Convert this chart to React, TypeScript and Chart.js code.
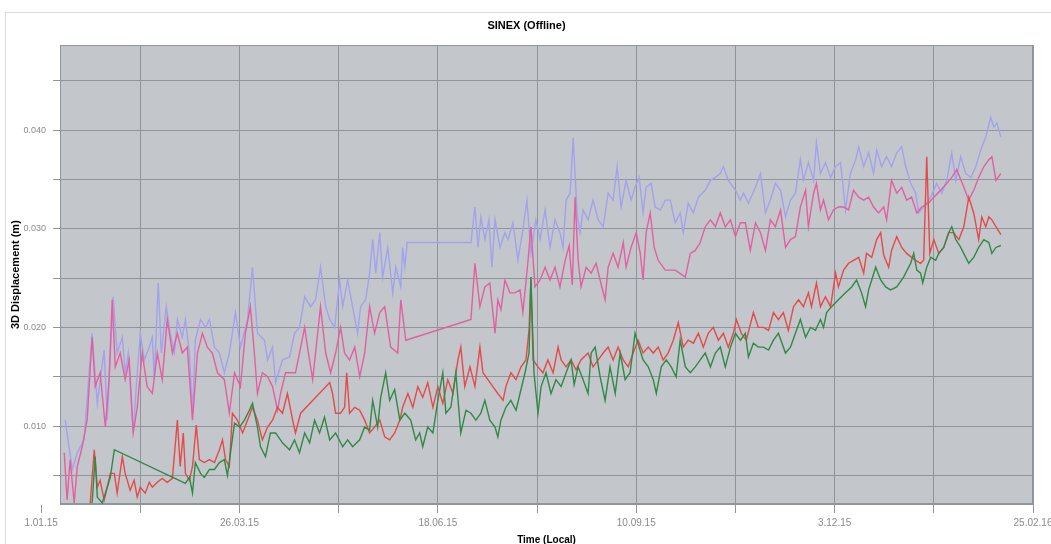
import { useEffect, useRef } from "react";
import { Chart, registerables } from "chart.js";

Chart.register(...registerables);

// Days since 1.01.15 and displacement values in millimetres (converted to metres for the axis)
const blueDays = [
  10.2,13.2,15.3,18.2,21.6,23.8,26.7,28.0,29.3,30.5,
  32.2,34.4,35.6,36.9,39.0,40.3,42.0,43.7,45.8,47.1,
  47.9,49.6,50.9,53.0,54.7,56.4,57.7,59.8,61.1,62.8,
  64.1,65.3,67.5,69.6,71.3,73.4,75.5,77.6,79.7,82.3,
  84.4,87.4,89.5,91.6,94.6,95.9,98.0,99.3,102.2,105.2,
  107.3,109.4,111.6,114.1,116.2,118.3,120.5,122.2,124.3,126.4,
  127.7,129.8,131.9,134.0,135.3,137.4,139.1,140.4,141.7,143.4,
  144.6,146.8,148.9,150.2,152.3,153.1,154.0,155.0,182.0,183.7,
  185.0,186.2,187.9,189.6,190.9,192.2,194.3,196.4,197.7,199.8,
  201.9,204.0,205.7,207.4,209.5,211.3,213.4,215.5,217.6,219.7,
  221.0,222.3,224.0,225.3,227.0,228.2,229.5,231.6,233.7,235.9,
  238.0,240.1,242.2,243.9,245.6,247.7,249.8,251.5,253.2,254.9,
  256.2,258.3,260.0,262.2,264.3,266.4,268.5,270.6,271.9,274.0,
  276.2,278.3,281.2,283.4,285.5,287.6,288.9,291.0,294.0,296.1,
  297.4,299.5,302.5,304.6,306.7,308.8,310.9,313.1,315.2,317.3,
  319.4,321.5,322.8,324.9,327.1,328.3,330.0,332.1,334.3,336.4,
  338.5,340.6,342.7,344.9,346.2,348.3,350.4,352.5,353.8,355.9,
  358.0,360.1,362.3,364.4,366.1,368.2,370.3,371.6,373.7,376.7,
  379.2,381.4,383.5,385.6,387.3,389.4,391.5,393.7,395.8,397.9,
  400.0,402.1,403.4,404.7,406.4,
];
const blueMm = [
  10.6,5.6,7.3,8.6,19.4,12.3,17.7,10.6,17.4,23.1,
  17.4,19.0,15.4,17.4,9.3,14.0,19.4,16.7,18.0,19.0,
  14.7,24.5,17.4,22.1,19.4,17.4,20.8,19.0,20.8,17.4,
  11.3,18.7,20.8,20.0,20.8,18.0,17.4,15.4,17.4,21.5,
  18.0,20.8,26.1,19.4,18.7,16.7,18.0,14.4,16.7,17.0,
  19.4,20.0,23.1,22.1,22.8,26.1,22.1,20.8,20.0,24.8,
  22.1,24.8,22.1,19.4,22.1,22.8,25.5,28.9,25.5,29.6,
  25.1,28.1,23.5,26.1,24.1,28.1,26.1,28.6,28.6,32.2,
  28.1,31.2,28.9,30.9,26.1,30.9,28.1,29.6,28.9,30.6,
  26.8,29.9,32.9,27.5,30.9,28.9,31.9,28.1,30.9,29.6,
  28.1,32.9,33.6,39.2,31.4,29.6,31.9,30.9,32.9,30.9,
  30.2,33.6,32.9,36.3,32.2,34.9,32.9,34.2,35.2,31.6,
  34.2,34.6,32.2,31.9,32.9,32.9,30.6,31.6,29.6,32.6,
  31.6,33.2,33.9,34.9,35.2,35.6,36.3,34.9,33.9,32.9,
  33.6,32.6,34.2,35.6,31.6,32.9,34.6,33.9,31.2,32.9,
  33.6,37.0,34.9,36.7,34.9,38.7,35.6,36.7,35.2,36.3,
  36.7,31.9,35.6,37.0,38.3,36.3,37.7,35.6,38.0,36.3,
  37.3,36.3,37.7,38.3,36.3,34.6,33.6,31.6,32.2,33.2,
  34.6,33.6,34.9,37.7,34.9,37.3,35.6,35.2,36.3,38.0,
  39.3,41.3,40.3,40.7,39.3,
];

const pinkDays = [
  9.8,11.0,12.3,14.0,15.3,17.4,19.5,21.6,22.9,25.0,
  27.2,28.8,30.1,31.4,33.5,35.6,37.3,39.0,40.7,42.8,
  44.9,47.1,49.2,51.3,53.4,55.6,57.7,59.8,61.9,64.1,
  66.2,68.3,70.4,72.5,74.7,77.6,79.7,81.9,84.4,86.5,
  88.6,90.3,91.6,93.7,95.9,98.0,100.1,101.4,103.5,105.6,
  107.7,109.4,111.6,112.8,115.0,117.1,118.3,120.5,122.6,124.7,
  126.8,128.5,130.6,132.8,134.9,137.0,139.1,141.2,143.4,145.5,
  148.0,151.0,152.3,154.4,182.0,183.7,185.8,187.9,190.0,192.2,
  193.4,194.7,196.4,198.5,200.6,202.8,204.0,206.2,207.4,209.1,
  211.3,213.4,215.5,217.6,219.7,221.9,223.6,224.9,226.1,227.4,
  228.6,230.8,232.9,235.0,236.7,238.8,240.1,242.2,244.3,246.5,
  247.7,249.8,252.0,253.7,254.9,256.2,257.9,259.6,261.3,264.3,
  268.5,272.8,274.9,277.0,279.1,281.2,283.4,285.5,287.6,289.7,
  291.9,294.0,296.1,298.2,300.3,302.5,304.6,306.7,308.8,310.9,
  313.1,315.2,317.3,319.4,321.5,323.7,324.9,327.1,328.3,330.0,
  331.3,333.4,335.5,337.6,339.8,341.9,344.0,346.2,348.3,350.4,
  352.5,354.6,356.8,358.0,360.1,362.3,364.4,366.5,368.6,370.8,
  372.9,375.8,378.0,380.9,383.5,385.6,387.7,390.7,392.8,394.9,
  397.0,399.2,401.3,402.6,404.3,406.4,
];
const pinkMm = [
  7.3,2.5,6.6,2.2,5.9,7.9,10.6,19.0,14.0,15.4,
  9.9,14.7,22.8,16.0,17.4,14.7,16.7,9.3,11.9,17.4,
  14.0,13.3,17.4,14.7,20.8,17.4,19.4,17.4,18.0,10.6,
  17.4,19.4,18.0,17.4,15.4,14.7,11.3,15.4,14.0,19.4,
  22.1,17.4,13.3,15.4,15.0,14.0,11.6,13.3,15.4,15.4,
  15.4,17.4,20.0,18.0,14.7,19.4,22.1,17.4,15.4,17.4,
  20.0,17.4,16.7,18.0,15.0,17.4,22.1,19.4,21.5,22.1,
  18.0,17.4,22.8,18.7,20.8,26.5,22.1,24.1,24.5,19.4,
  22.8,21.8,24.8,23.5,23.5,23.8,21.5,26.8,30.2,24.1,
  24.8,26.1,24.8,26.1,24.1,26.8,28.3,24.3,33.2,26.8,
  24.1,26.1,25.5,26.5,24.8,22.8,26.1,27.5,26.1,28.6,
  26.1,28.1,29.6,27.5,24.8,29.6,31.6,28.1,26.8,25.8,
  25.8,25.1,27.5,27.8,28.6,30.2,30.9,30.2,31.6,30.2,
  30.9,29.2,30.6,30.6,27.8,30.6,29.6,27.8,30.9,30.2,
  31.9,28.1,28.9,29.2,32.2,33.9,30.2,33.6,34.6,31.9,
  32.9,30.9,31.9,32.2,32.2,31.9,33.9,33.2,32.9,33.2,
  32.2,31.6,32.2,30.9,34.9,33.6,34.2,32.9,33.2,31.6,
  32.2,32.6,33.2,33.9,34.6,35.2,36.0,34.2,32.9,33.9,
  35.2,36.3,37.0,37.3,34.9,35.6,
];

const redDays = [
  20.8,22.5,23.8,25.0,26.7,28.0,29.3,31.0,32.2,34.4,
  35.6,37.7,39.4,40.7,42.0,44.1,45.8,47.1,49.2,51.3,
  53.4,55.6,57.7,58.9,60.2,61.1,62.8,64.1,65.7,67.0,
  69.1,71.3,73.4,75.5,76.8,78.1,79.7,81.0,83.1,85.3,
  87.4,89.5,91.6,93.7,95.9,98.0,100.1,102.2,104.3,106.5,
  107.7,109.9,122.2,123.4,124.7,126.8,128.5,129.4,130.6,132.8,
  134.9,137.0,139.1,141.2,143.4,145.5,147.6,149.7,151.9,153.1,
  155.3,157.4,159.5,161.6,163.7,165.9,168.0,170.1,172.2,174.4,
  176.5,177.7,179.4,181.6,183.7,185.8,187.1,189.2,191.3,193.4,
  195.6,196.8,198.9,201.1,203.2,205.3,206.6,207.4,208.3,210.4,
  212.5,214.6,216.8,218.9,220.2,222.3,224.4,226.5,228.6,231.6,
  233.7,235.9,238.0,240.1,242.2,244.3,246.5,248.6,250.7,252.8,
  254.9,257.1,259.2,261.3,263.4,265.5,267.7,269.8,271.9,274.0,
  276.2,278.3,280.4,282.5,284.6,286.8,288.9,291.0,293.1,294.4,
  296.5,298.6,301.6,303.7,305.9,308.0,310.1,312.2,314.3,316.4,
  318.6,320.7,322.8,324.9,326.2,328.3,330.0,332.1,334.3,336.4,
  337.6,339.8,341.9,344.0,346.2,348.3,349.5,351.7,353.8,355.5,
  356.8,358.9,360.1,362.3,364.4,366.5,368.6,370.3,372.4,373.7,
  375.0,376.3,378.0,380.1,382.2,384.3,386.4,388.6,390.7,392.8,
  394.9,397.0,398.3,400.0,401.3,402.6,404.3,406.4,
];
const redMm = [
  2.2,7.6,3.8,4.5,2.5,3.8,5.2,5.2,3.2,6.9,
  5.2,3.5,4.5,2.8,3.8,3.2,4.3,3.8,4.3,4.7,
  4.3,4.7,10.6,5.9,9.3,5.2,4.5,5.9,10.1,6.6,
  6.3,6.6,6.3,7.6,8.6,6.6,5.9,11.3,10.6,9.3,
  10.6,11.9,10.6,8.6,9.9,10.6,11.9,11.3,13.3,10.6,
  9.3,11.3,14.4,13.3,11.3,11.3,11.9,15.4,11.3,11.9,
  11.6,10.6,9.3,9.9,10.6,8.9,8.6,9.3,10.6,11.9,
  13.3,11.9,14.0,12.9,14.4,11.9,14.0,12.3,14.7,13.3,
  16.7,18.0,14.0,16.0,14.0,18.0,15.4,14.7,14.0,13.3,
  12.6,14.0,15.4,14.7,16.0,16.7,19.7,24.8,16.7,16.0,
  15.4,16.7,15.4,18.0,16.7,16.0,16.7,15.7,16.7,17.4,
  16.0,16.7,17.4,18.0,16.7,18.0,16.7,16.0,17.4,18.7,
  17.4,18.0,17.4,18.0,16.7,17.4,18.7,20.5,18.0,18.7,
  18.4,19.4,18.0,19.4,20.0,18.7,19.4,18.0,19.4,20.8,
  19.4,18.7,21.5,20.0,20.0,19.7,21.5,20.8,21.5,19.7,
  22.1,22.8,22.1,23.5,22.1,24.5,22.1,23.1,22.1,25.5,
  24.1,25.8,26.5,26.8,27.1,25.5,27.5,27.1,28.9,29.6,
  27.3,26.1,27.8,29.2,28.1,27.5,27.1,26.8,26.5,26.8,
  37.3,27.5,28.9,27.5,28.1,29.6,29.6,28.9,30.2,33.2,
  31.6,28.9,31.2,30.2,31.2,30.9,30.2,29.4,
];

const greenDays = [
  21.6,22.9,23.8,25.9,28.0,29.3,31.0,61.1,62.8,64.1,
  65.3,67.5,69.1,71.3,73.4,75.5,77.6,78.9,80.2,81.9,
  84.0,86.1,88.2,89.5,91.6,92.9,95.0,97.1,99.3,102.2,
  105.2,107.3,109.4,111.6,113.7,115.8,117.9,120.0,122.2,124.7,
  127.7,129.8,131.9,134.9,137.0,139.1,140.4,142.5,143.8,145.9,
  147.6,149.7,151.9,154.0,156.5,158.6,160.3,161.6,163.7,165.9,
  168.0,170.1,171.4,173.5,175.6,177.7,179.9,182.0,184.1,186.2,
  187.9,190.0,192.2,193.4,194.7,196.8,198.9,201.1,202.8,204.9,
  206.6,207.4,208.7,210.4,211.7,213.8,215.9,218.0,220.2,222.3,
  224.4,225.7,227.4,229.5,231.6,232.9,234.6,236.7,238.8,240.9,
  243.1,245.2,247.3,249.4,251.5,253.2,254.9,257.1,259.2,260.5,
  262.6,264.7,266.8,268.9,270.6,272.8,274.9,277.0,279.1,281.2,
  283.4,285.5,287.6,289.7,291.9,294.0,296.1,298.2,299.5,301.6,
  303.7,305.9,308.0,310.1,312.2,315.2,317.3,319.4,321.5,323.7,
  325.8,327.9,330.0,331.3,332.6,334.7,337.6,340.6,343.2,345.3,
  347.4,349.1,350.4,351.7,353.4,355.5,357.6,359.7,362.3,365.2,
  368.2,369.5,370.8,372.4,373.3,375.0,376.7,378.8,380.1,382.2,
  384.3,385.6,387.3,389.4,391.5,392.8,394.9,397.0,399.2,401.3,
  402.6,404.3,406.4,
];
const greenMm = [
  2.2,6.9,2.8,2.2,3.8,4.8,7.6,4.2,4.8,3.2,
  6.3,5.2,4.8,5.6,5.6,6.3,6.6,5.0,7.3,10.3,
  9.9,10.6,11.6,12.3,9.9,7.9,6.9,9.3,9.3,8.3,
  7.6,8.6,7.3,9.3,8.3,10.6,9.3,10.9,8.6,9.3,
  7.9,8.6,7.9,8.6,9.9,9.6,12.6,9.9,12.9,15.4,
  12.6,13.7,10.6,11.3,10.6,8.6,9.3,7.9,9.9,9.3,
  12.6,15.4,11.3,11.9,15.4,9.3,11.6,11.3,10.6,11.3,
  12.6,10.6,9.9,8.9,10.6,11.9,12.6,11.6,13.3,15.4,
  17.4,25.1,15.4,11.3,14.0,15.4,13.3,14.7,14.0,15.4,
  16.7,14.2,16.0,14.7,13.3,17.4,18.0,15.0,12.6,16.0,
  13.3,17.4,14.7,15.4,19.4,18.0,16.7,16.0,14.7,13.3,
  16.0,16.7,16.0,15.0,18.7,16.0,15.4,16.0,16.7,17.4,
  16.0,17.4,18.0,16.0,18.0,19.4,18.7,19.4,17.0,18.4,
  18.0,18.0,17.7,18.7,19.4,17.4,18.0,19.4,20.8,19.0,
  20.0,19.7,20.8,20.0,21.5,22.1,22.8,23.5,24.1,24.8,
  23.5,22.1,23.8,24.8,26.1,24.8,24.1,23.8,24.1,25.1,
  26.5,27.5,25.8,25.5,24.5,26.1,27.1,26.8,27.5,28.1,
  29.6,30.2,28.9,28.1,27.1,26.5,27.1,28.1,28.9,28.6,
  27.5,28.1,28.3,
];

// Axis ticks
const xTickDays = [0, 42, 84, 126, 168, 210, 252, 294, 336, 378, 420];
const xLabelDays = [0, 84, 168, 252, 336, 420];
const xTickLabels = ["1.01.15", "26.03.15", "18.06.15", "10.09.15", "3.12.15", "25.02.16"];
const yTickValues = [0.005, 0.01, 0.015, 0.02, 0.025, 0.03, 0.035, 0.04, 0.045];
const yLabelValues = [0.01, 0.02, 0.03, 0.04];
const yTickLabels = ["0.010", "0.020", "0.030", "0.040"];

const FONT = "'Liberation Sans', Arial, sans-serif";
const PLOT_BG = "#c3c6cb";
const GRID = "#90949b";

const toPoints = (days: number[], mm: number[]) =>
  days.map((d, i) => ({ x: d, y: mm[i] / 1000 }));

const framePlugin = {
  id: "frame",
  beforeDraw(chart: any) {
    const { ctx, chartArea: a } = chart;
    ctx.save();
    ctx.fillStyle = "#ffffff";
    ctx.fillRect(0, 0, chart.width, chart.height);
    ctx.strokeStyle = "#dadada";
    ctx.lineWidth = 1;
    ctx.strokeRect(5.5, 12.5, chart.width + 10, chart.height + 10);
    ctx.fillStyle = PLOT_BG;
    ctx.fillRect(a.left, a.top, a.right - a.left, a.bottom - a.top);
    ctx.restore();
  },
  beforeDatasetsDraw(chart: any) {
    const { ctx, chartArea: a } = chart;
    ctx.save();
    ctx.strokeStyle = GRID;
    ctx.lineWidth = 1;
    ctx.strokeRect(Math.round(a.left) + 0.5, Math.round(a.top) + 0.5, Math.round(a.right - a.left) - 1, Math.round(a.bottom - a.top) - 1);
    ctx.restore();
  },
};

export default function App() {
  const ref = useRef<HTMLCanvasElement | null>(null);

  useEffect(() => {
    document.body.style.margin = "0";
    const canvas = ref.current;
    if (!canvas) return;
    const line = (label: string, days: number[], mm: number[], color: string) => ({
      label,
      data: toPoints(days, mm),
      borderColor: color,
      backgroundColor: color,
      borderWidth: 1.4,
      pointRadius: 0,
      tension: 0,
      fill: false,
    });
    const chart = new Chart(canvas, {
      type: "line",
      data: {
        datasets: [
          line("Green", greenDays, greenMm, "#2f8a46"),
          line("Red", redDays, redMm, "#e44a4a"),
          line("Pink", pinkDays, pinkMm, "#e2609f"),
          line("Blue", blueDays, blueMm, "#a2a2ee"),
        ],
      },
      options: {
        responsive: false,
        animation: false,
        layout: { padding: { left: 20, right: 18, top: 0, bottom: 0 } },
        plugins: {
          legend: { display: false },
          tooltip: { enabled: false },
          title: {
            display: true,
            text: "SINEX (Offline)",
            color: "#000",
            font: { family: FONT, size: 11, weight: "bold" },
            padding: { top: 19, bottom: 13 },
          },
        },
        scales: {
          x: {
            type: "linear",
            min: 8,
            max: 420,
            afterBuildTicks(s: any) {
              s.ticks = xTickDays.map((value) => ({ value }));
            },
            afterFit(s: any) {
              s.height = 40;
              s.paddingLeft = 0;
              s.paddingRight = 0;
            },
            ticks: {
              autoSkip: false,
              maxRotation: 0,
              padding: 4,
              color: "#8a8a8a",
              font: { family: FONT, size: 10 },
              callback: (v: any) => {
                const i = xLabelDays.indexOf(Number(v));
                return i >= 0 ? xTickLabels[i] : "";
              },
            },
            grid: {
              color: (c: any) => (c.tick && c.tick.value === 0 ? "rgba(0,0,0,0)" : GRID),
              tickColor: GRID,
              tickLength: 9,
              lineWidth: 1,
            },
            border: { display: true, color: GRID },
            title: {
              display: true,
              text: "Time (Local)",
              color: "#000",
              font: { family: FONT, size: 10, weight: "bold" },
              padding: { top: 0, bottom: -2 },
            },
          },
          y: {
            type: "linear",
            min: 0.0021,
            max: 0.0486,
            afterBuildTicks(s: any) {
              s.ticks = yTickValues.map((value) => ({ value }));
            },
            afterFit(s: any) {
              s.width = 40;
              s.paddingTop = 0;
              s.paddingBottom = 0;
            },
            ticks: {
              padding: 7,
              color: "#8a8a8a",
              font: { family: FONT, size: 9 },
              callback: (v: any) => {
                const i = yLabelValues.findIndex((lv) => Math.abs(lv - Number(v)) < 1e-9);
                return i >= 0 ? yTickLabels[i] : "";
              },
            },
            grid: { color: GRID, tickColor: GRID, tickLength: 7, lineWidth: 1 },
            border: { display: true, color: GRID },
            title: {
              display: true,
              text: "3D Displacement (m)",
              color: "#000",
              font: { family: FONT, size: 11, weight: "bold" },
              padding: { top: -11, bottom: 0 },
            },
          },
        },
      },
      plugins: [framePlugin],
    } as any);
    return () => chart.destroy();
  }, []);

  return (
    <div style={{ width: 1051, height: 544, position: "relative" }}>
      <canvas ref={ref} width={1051} height={544} style={{ display: "block", width: 1051, height: 544 }} />
    </div>
  );
}
